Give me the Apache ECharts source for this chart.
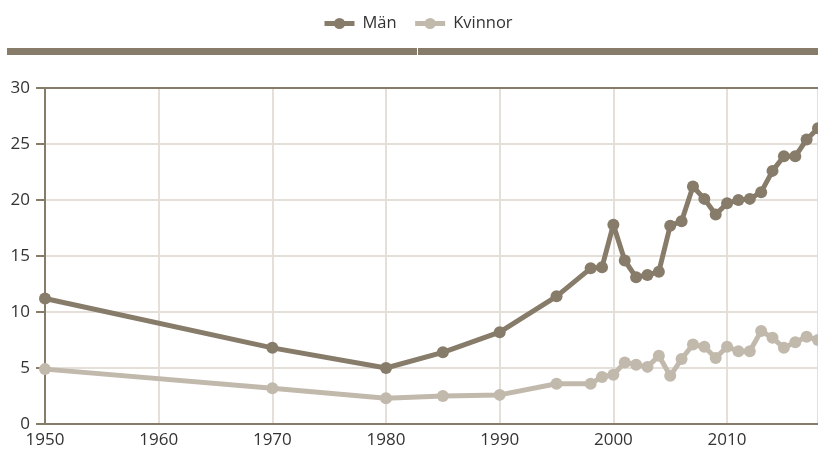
<!DOCTYPE html>
<html>
<head>
<meta charset="utf-8">
<script src="https://cdn.jsdelivr.net/npm/echarts@6/dist/echarts.min.js"></script>
<style>
  html, body { margin: 0; padding: 0; background: #fff; }
  #chart { width: 818px; height: 453px; }
</style>
</head>
<body>
<div id="chart"></div>
<script>
// år och värden
var years = [1950, 1970, 1980, 1985, 1990, 1995, 1998, 1999, 2000, 2001, 2002, 2003, 2004, 2005, 2006,
             2007, 2008, 2009, 2010, 2011, 2012, 2013, 2014, 2015, 2016, 2017, 2018];
var man = [11.2, 6.8, 5.0, 6.4, 8.2, 11.4, 13.9, 14.0, 17.8, 14.6, 13.1, 13.3, 13.6, 17.7, 18.1,
           21.2, 20.1, 18.7, 19.7, 20.0, 20.1, 20.7, 22.6, 23.9, 23.9, 25.4, 26.4];
var kvinnor = [4.9, 3.2, 2.3, 2.5, 2.6, 3.6, 3.6, 4.2, 4.4, 5.5, 5.3, 5.1, 6.1, 4.3, 5.8,
               7.1, 6.9, 5.9, 6.9, 6.5, 6.5, 8.3, 7.7, 6.8, 7.3, 7.8, 7.5];
var yTicks = [0, 5, 10, 15, 20, 25, 30];

var morkFarg = '#877b6a';
var ljusFarg = '#c2b9ad';
var gridFarg = '#e4e0d9';

function par(arr){
    return years.map(function(y, i){ return [y, arr[i]]; });
}

var chart = echarts.init(document.getElementById('chart'));
var option = {
    animation: false,
    textStyle: { fontFamily: 'Open Sans' },
    legend: {
        top: 10,
        left: 317,
        itemWidth: 30,
        itemHeight: 14,
        itemGap: 16,
        lineStyle: { width: 5 },
        textStyle: { color: '#333', fontSize: 16.5, padding: [0, 0, 0, 3] },
        data: ['Män', 'Kvinnor']
    },
    graphic: [
        { type: 'rect', left: 7, top: 48, shape: { width: 410, height: 7 }, style: { fill: morkFarg } },
        { type: 'rect', left: 418, top: 48, shape: { width: 400, height: 7 }, style: { fill: morkFarg } }
    ],
    grid: { left: 45, right: 0, top: 88, bottom: 29 },
    xAxis: [{
        type: 'value',
        min: 1950,
        max: 2018,
        interval: 10,
        axisLine: { show: true, lineStyle: { color: morkFarg, width: 2 } },
        axisTick: { show: false },
        axisLabel: {
            color: '#333',
            fontSize: 17,
            margin: 8,
            showMaxLabel: false,
            formatter: function(v){ return v % 10 === 0 ? String(v) : ''; }
        },
        splitLine: { show: true, lineStyle: { color: gridFarg, width: 2 } }
    }, {
        type: 'value',
        position: 'top',
        min: 1950,
        max: 2018,
        axisLine: { show: true, lineStyle: { color: morkFarg, width: 2 } },
        axisTick: { show: false },
        axisLabel: { show: false },
        splitLine: { show: false }
    }],
    yAxis: {
        type: 'value',
        min: yTicks[0],
        max: yTicks[yTicks.length - 1],
        interval: 5,
        axisLine: { show: true, lineStyle: { color: morkFarg, width: 2 } },
        axisTick: { show: true, length: 9, lineStyle: { color: morkFarg, width: 2 } },
        axisLabel: { color: '#333', fontSize: 17, margin: 15 },
        splitLine: { show: true, lineStyle: { color: gridFarg, width: 2 } }
    },
    series: [{
        name: 'Män',
        type: 'line',
        data: par(man),
        symbol: 'circle',
        symbolSize: 12,
        z: 3,
        lineStyle: { color: morkFarg, width: 5 },
        itemStyle: { color: morkFarg }
    }, {
        name: 'Kvinnor',
        type: 'line',
        data: par(kvinnor),
        symbol: 'circle',
        symbolSize: 12,
        z: 2,
        lineStyle: { color: ljusFarg, width: 5 },
        itemStyle: { color: ljusFarg }
    }]
};
chart.setOption(option);
</script>
</body>
</html>
